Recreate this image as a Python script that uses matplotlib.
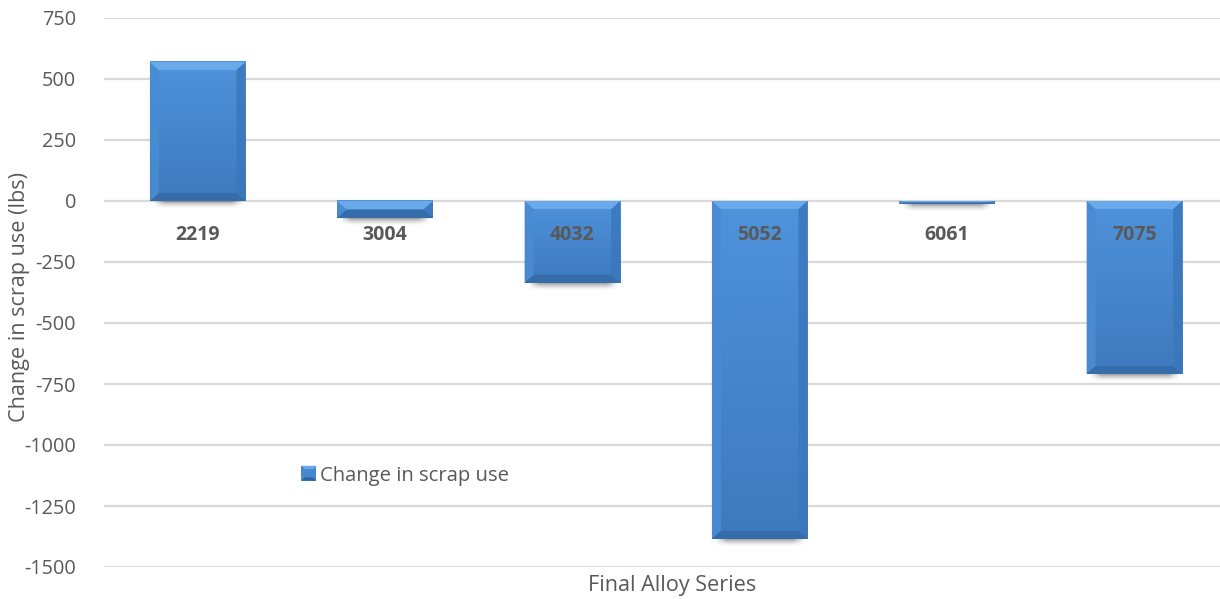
import matplotlib
matplotlib.use("Agg")
import matplotlib.pyplot as plt
from matplotlib.patches import Polygon, Rectangle
from matplotlib.colors import LinearSegmentedColormap
from matplotlib.legend_handler import HandlerBase
import numpy as np

# Data
alloys = ["2219", "3004", "4032", "5052", "6061", "7075"]
scrap_change = [570, -70, -336, -1385, -12, -709]
y_ticks = [750, 500, 250, 0, -250, -500, -750, -1000, -1250, -1500]
series_name = "Change in scrap use"

W, H, DPI = 1220, 599, 100
fig = plt.figure(figsize=(W / DPI, H / DPI), dpi=DPI)

# axes placement in pixels
ax_left, ax_right = 104, 1228
ax_top, ax_bottom = 18, 567
ax = fig.add_axes([ax_left / W, 1 - ax_bottom / H,
                   (ax_right - ax_left) / W, (ax_bottom - ax_top) / H])
ax.set_xlim(-0.5, len(alloys) - 0.5)
ax.set_ylim(-1500, 750)

grey_txt = "#595959"
font = "Open Sans"

for t in y_ticks:
    ax.axhline(t, color="#d9d9d9", lw=1.6, zorder=0)
ax.set_yticks(y_ticks)
ax.set_yticklabels([str(t) for t in y_ticks], fontfamily=font, fontsize=14.3, color=grey_txt)
ax.tick_params(axis="y", length=0, pad=20)
ax.set_xticks([])
for s in ax.spines.values():
    s.set_visible(False)

# pixel -> data scale factors
px_x = len(alloys) / (ax_right - ax_left)
px_y = 2250 / (ax_bottom - ax_top)

bars = ax.bar(range(len(alloys)), scrap_change, width=0.51, color="#4788cf",
              edgecolor="none", zorder=3)

body_cmap = LinearSegmentedColormap.from_list("body", ["#3f79bd", "#4e93dc"])

for rect in bars:
    x0 = rect.get_x()
    w = rect.get_width()
    y0 = min(rect.get_y(), rect.get_y() + rect.get_height())
    h = abs(rect.get_height())
    x1, y1 = x0 + w, y0 + h

    # soft shadow under the bottom edge
    n = 24
    sh = np.zeros((n, 40, 4))
    fade_v = np.linspace(0.0, 1.0, n) ** 1.6          # row 0 = lowest
    fade_h = np.clip(np.minimum(np.linspace(0, 1, 40), np.linspace(1, 0, 40)) * 8, 0, 1)
    sh[..., 3] = 0.45 * fade_v[:, None] * fade_h[None, :]
    ax.imshow(sh, extent=(x0 + 2 * px_x, x1 - 2 * px_x, y0 - 8 * px_y, y0 + 1 * px_y),
              aspect="auto", origin="lower", zorder=2, interpolation="bilinear")

    # vertical gradient body
    grad = np.linspace(0, 1, 64).reshape(-1, 1)
    ax.imshow(grad, extent=(x0, x1, y0, y1), aspect="auto", origin="lower",
              cmap=body_cmap, zorder=3.5, interpolation="bilinear")

    # bevel edges
    bx = min(9 * px_x, w / 2)
    by = min(8 * px_y, h / 2)
    top = Polygon([(x0, y1), (x1, y1), (x1 - bx, y1 - by), (x0 + bx, y1 - by)],
                  facecolor="#6aaaea", edgecolor="none", zorder=4)
    bot = Polygon([(x0, y0), (x1, y0), (x1 - bx, y0 + by), (x0 + bx, y0 + by)],
                  facecolor="#366ca9", edgecolor="none", zorder=4)
    left = Polygon([(x0, y0), (x0, y1), (x0 + bx, y1 - by), (x0 + bx, y0 + by)],
                   facecolor="#4a8cd3", edgecolor="none", zorder=4, alpha=0.85)
    right = Polygon([(x1, y0), (x1, y1), (x1 - bx, y1 - by), (x1 - bx, y0 + by)],
                    facecolor="#3b77bb", edgecolor="none", zorder=4, alpha=0.85)
    for p in (left, right, top, bot):
        ax.add_patch(p)

# category labels just below the zero line
for i, name in enumerate(alloys):
    ax.text(i, -138, name, ha="center", va="center", fontfamily=font,
            fontweight="bold", fontsize=14, color=grey_txt, zorder=5)


class BevelHandler(HandlerBase):
    def create_artists(self, legend, orig_handle, xdescent, ydescent, width, height, fontsize, trans):
        s = height
        x = xdescent + width - s
        y = ydescent
        b = s * 0.22
        return [Rectangle((x, y), s, s, facecolor="#4788cf", edgecolor="none", transform=trans),
                Polygon([(x, y + s), (x + s, y + s), (x + s - b, y + s - b), (x + b, y + s - b)],
                        facecolor="#6aaaea", edgecolor="none", transform=trans),
                Polygon([(x, y), (x + s, y), (x + s - b, y + b), (x + b, y + b)],
                        facecolor="#2f64a3", edgecolor="none", transform=trans)]


handle = Rectangle((0, 0), 1, 1)
leg = ax.legend([handle], [series_name], handler_map={Rectangle: BevelHandler()},
                loc="center left", bbox_to_anchor=(291 / W, 1 - 476 / H),
                bbox_transform=fig.transFigure, frameon=False,
                prop={"family": font, "size": 14.6}, handlelength=0.75,
                handleheight=0.75, handletextpad=0.2, borderpad=0)
for t in leg.get_texts():
    t.set_color(grey_txt)

fig.text(672 / W, 1 - 586 / H, "Final Alloy Series", ha="center", va="center",
         fontfamily=font, fontsize=15.6, color=grey_txt)
fig.text(20 / W, 1 - 297 / H, "Change in scrap use (lbs)", ha="center", va="center",
         rotation=90, fontfamily=font, fontsize=15.6, color=grey_txt)

fig.savefig("out.png", dpi=DPI)
